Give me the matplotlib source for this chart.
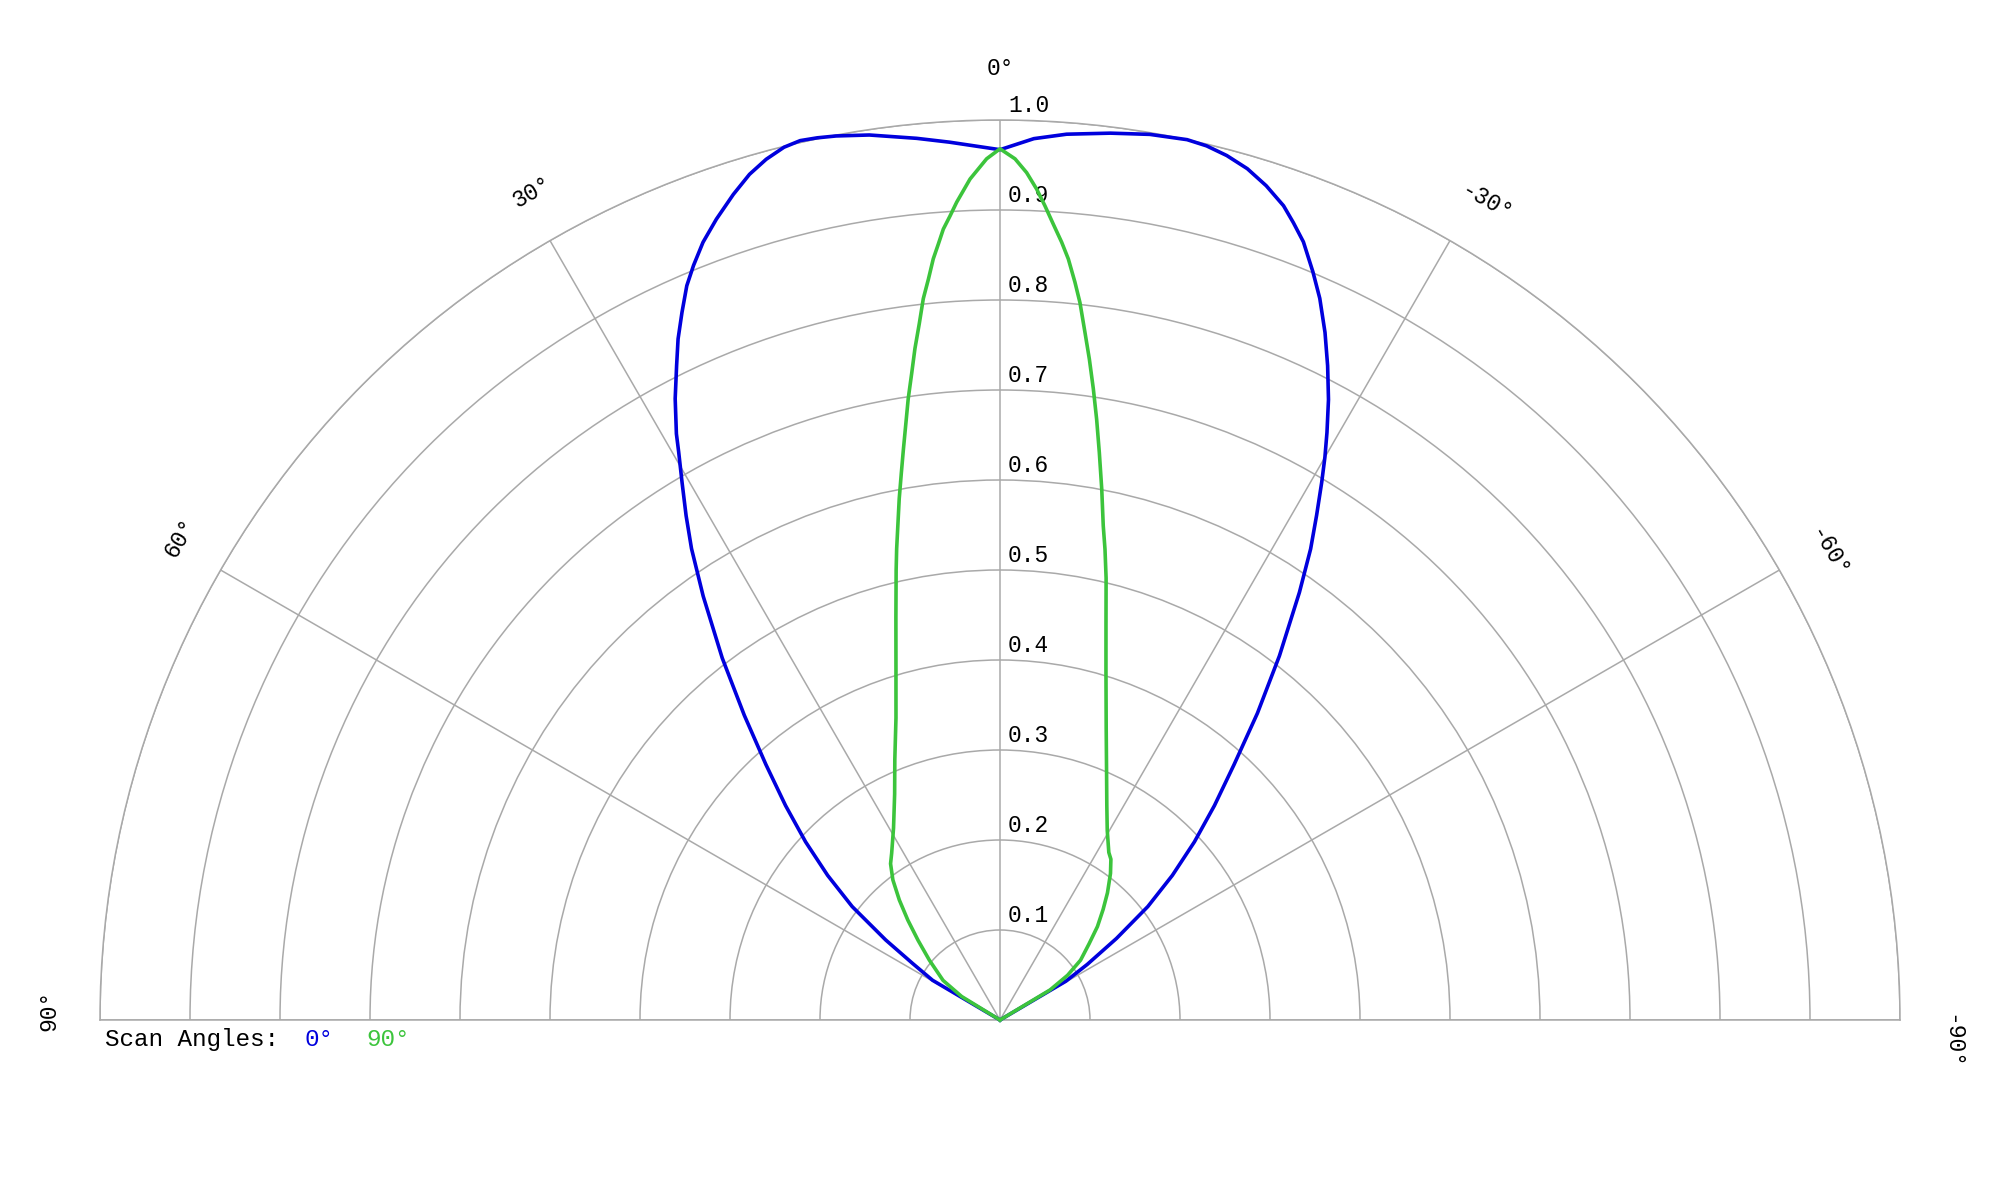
import numpy as np
import matplotlib
matplotlib.use('Agg')
import matplotlib.pyplot as plt

# Scan 0 deg (blue) - angle in degrees (positive = left side), normalised amplitude
theta_scan0 = [61, 59.5, 57.1, 55, 52.5, 50, 47.5, 45, 42.5, 40, 37.5, 35,
               33.2, 31.9, 30.6, 29.5, 28.9, 27.6, 26.3, 25.3, 24.2, 23.1, 22.1,
               20.9, 19.5, 17.9, 16.5, 15.2, 13.9, 12.8, 11.7, 10.5, 8.4, 5.4,
               3.3, 0,
               -2.2, -4.3, -7.1, -9.6, -12.0, -13.3, -14.7, -16.2, -17.7, -19.2,
               -20.2, -21.3, -22.7, -23.9, -25.3, -26.6, -27.9, -29.1, -30.0,
               -30.9, -32.1, -33.4, -35, -37.5, -40, -42.5, -45, -47.5, -50,
               -52.5, -55, -57.5, -59.5, -61]
r_scan0 = [0.0, 0.087, 0.1155, 0.155, 0.207, 0.25, 0.293, 0.337, 0.385, 0.442,
           0.507, 0.575,
           0.626, 0.66, 0.694, 0.725, 0.744, 0.779, 0.811, 0.837, 0.862, 0.887,
           0.905, 0.925, 0.944, 0.964, 0.98, 0.991, 0.999, 1.002, 1.001, 0.999,
           0.994, 0.984, 0.977, 0.967,
           0.980, 0.987, 0.993, 0.998, 1.0, 0.998, 0.993, 0.985, 0.973, 0.958,
           0.944, 0.928, 0.901, 0.877, 0.845, 0.813, 0.78, 0.747, 0.722,
           0.696, 0.662, 0.627, 0.58, 0.51, 0.445, 0.385, 0.337, 0.293, 0.25,
           0.207, 0.158, 0.115, 0.085, 0.0]

# Scan 90 deg (green)
theta_scan90 = [61, 58.5, 55.2, 49.7, 45.8, 42.7, 40, 37.4, 35, 33, 29, 25, 22,
                19, 16.5, 14.5, 13, 12.37, 11.62, 10.94, 10.24, 9.61, 8.99, 8.4,
                7.78, 7.22, 6.61, 6.07, 5.52, 5.01, 4.54, 4.1, 3.56, 3.03, 2.04,
                0.89, 0,
                -1.0, -1.8, -2.53, -3.16, -3.84, -4.53, -5.13, -5.8, -6.36, -7.04,
                -7.7, -8.41, -9.14, -9.93, -10.84, -11.8, -12.57, -13.5,
                -15, -16.9, -20, -23.5, -26.5, -29.5, -33, -34.6, -37, -40.2,
                -43, -46.2, -49.5, -53.4, -56.5, -59, -61]
r_scan90 = [0.0, 0.05, 0.077, 0.103, 0.127, 0.151, 0.174, 0.196, 0.212, 0.221,
            0.244, 0.277, 0.312, 0.355, 0.407, 0.462, 0.513, 0.536, 0.563, 0.59,
            0.617, 0.643, 0.67, 0.698, 0.725, 0.752, 0.779, 0.806, 0.827, 0.849,
            0.865, 0.881, 0.895, 0.91, 0.935, 0.957, 0.968,
            0.957, 0.942, 0.924, 0.906, 0.886, 0.867, 0.849, 0.824, 0.802, 0.77,
            0.741, 0.709, 0.676, 0.64, 0.601, 0.561, 0.536, 0.505,
            0.455, 0.405, 0.345, 0.297, 0.266, 0.242, 0.222,
            0.217, 0.204, 0.185, 0.168, 0.15, 0.13, 0.1115, 0.09, 0.065, 0.0]

r_ticks = [0.1, 0.2, 0.3, 0.4, 0.5, 0.6, 0.7, 0.8, 0.9, 1.0]
r_tick_labels = ['0.1', '0.2', '0.3', '0.4', '0.5', '0.6', '0.7', '0.8', '0.9', '1.0']
angle_ticks = [90, 60, 30, 0, -30, -60, -90]
angle_labels = ['90°', '60°', '30°', '0°', '-30°', '-60°', '-90°']

legend_title = 'Scan Angles:'
legend_items = ['0°', '90°']

BLUE = '#0000dd'
GREEN = '#3cc43c'
GRID = '#a9a9a9'
FONT = 'Liberation Mono'

W, H = 2000, 1200
fig = plt.figure(figsize=(W / 100, H / 100), dpi=100)
fig.patch.set_facecolor('white')

# center at (1000, 1020) px from top-left, radius 900 px
# polar axes keep a square box; the half disc sits centred inside it
cx, cy, R = 1000, 1020, 900
box_top = cy - R / 2 - R
ax = fig.add_axes([(cx - R) / W, (H - box_top - 2 * R) / H, 2 * R / W, 2 * R / H],
                  projection='polar')
ax.set_theta_zero_location('N')
ax.set_theta_direction(1)
ax.set_thetamin(-90)
ax.set_thetamax(90)
ax.set_rlim(0, 1.0)
ax.set_facecolor('white')

ax.set_rgrids(r_ticks, labels=[''] * len(r_ticks))
ax.set_thetagrids(angle_ticks, labels=[''] * len(angle_ticks))
ax.grid(True, color=GRID, linewidth=1.1)
for sp in ax.spines.values():
    sp.set_color(GRID)
    sp.set_linewidth(1.1)
ax.tick_params(length=0)

ax.plot(np.deg2rad(theta_scan0), r_scan0, color=BLUE, linewidth=2.6,
        zorder=4, clip_on=False, solid_joinstyle='round')
ax.plot(np.deg2rad(theta_scan90), r_scan90, color=GREEN, linewidth=2.6,
        zorder=5, clip_on=False, solid_joinstyle='round')

# radial labels along the 0 deg spoke
for r, lab in zip(r_ticks, r_tick_labels):
    ax.annotate(lab, xy=(0, r), xytext=(8, 8), textcoords='offset pixels',
                ha='left', va='baseline', fontsize=16.5, family=FONT,
                zorder=2, annotation_clip=False)

# angle labels around the outside, nudged a little along their reading direction
shifts = {90: 10, 60: 8, 30: 9, 0: 0, -30: 12, -60: 10, -90: 22}
for a, lab in zip(angle_ticks, angle_labels):
    s = shifts[a]
    off = (s * np.cos(np.deg2rad(a)), s * np.sin(np.deg2rad(a)))
    ax.annotate(lab, xy=(np.deg2rad(a), 1.057), xytext=off,
                textcoords='offset pixels', rotation=a, rotation_mode='anchor',
                ha='center', va='center', fontsize=16.5, family=FONT,
                annotation_clip=False)

# legend row under the baseline
base_y = 1 - 1046 / H
fig.text(105 / W, base_y, legend_title, fontsize=17.5, family=FONT,
         va='baseline', ha='left', color='black')
fig.text(305 / W, base_y, legend_items[0], fontsize=17.5, family=FONT,
         va='baseline', ha='left', color=BLUE)
fig.text(366 / W, base_y, legend_items[1], fontsize=17.5, family=FONT,
         va='baseline', ha='left', color=GREEN)

fig.savefig('out.png', dpi=100, facecolor='white')
